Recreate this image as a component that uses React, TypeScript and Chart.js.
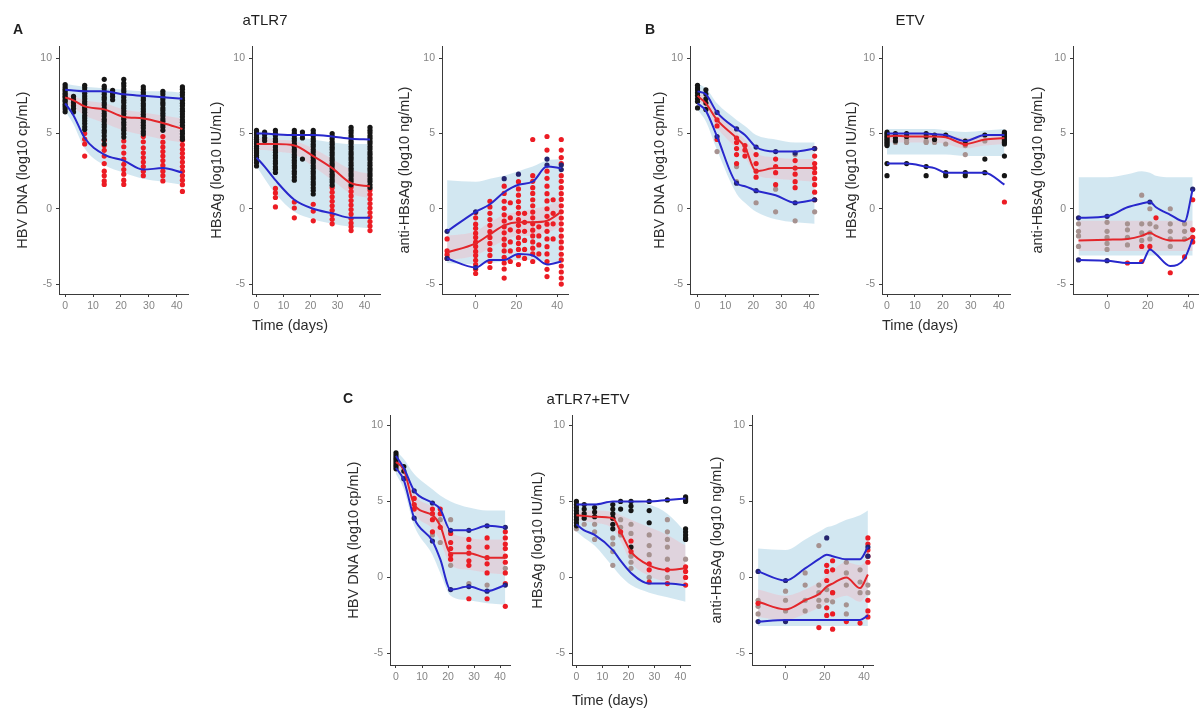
import { useEffect, useRef } from 'react';
import { Chart, registerables } from 'chart.js';

Chart.register(...registerables);

type Col = [number, number[]];

const FONT = '"Liberation Sans", Arial, Helvetica, sans-serif';
const AXIS = '#3a3a3a';
const TICK = '#858585';
const TITLE = '#2b2b2b';
const BLUE_LINE = '#2828cc';
const RED_LINE = '#e3262b';
const BLUE_BAND = 'rgba(188, 219, 234, 0.68)';
const PINK_BAND = 'rgba(250, 172, 184, 0.34)';
const BLACK_PT = '#151515';
const DARK_PT = '#24246e';
const RED_PT = '#ec1c24';
const GREY_PT = '#a69290';

// ---------- aTLR7 : HBV DNA ----------
const A1_DAYS = [0, 3, 7, 14, 21, 28, 35, 42];
const A1_P95 = [7.9, 7.85, 7.8, 7.8, 7.6, 7.5, 7.4, 7.3];
const A1_P50 = [7.4, 7.2, 6.8, 6.6, 6.1, 6.0, 5.7, 5.3];
const A1_P05 = [7.0, 6.2, 4.7, 3.6, 3.2, 2.6, 2.7, 2.4];
const A1_PI_HI = [8.3, 8.2, 8.1, 8.0, 7.9, 7.8, 7.8, 7.7];
const A1_PI_LO = [6.5, 5.6, 4.0, 2.9, 2.4, 2.0, 1.8, 1.6];
const A1_MED_HI = [7.8, 7.5, 7.2, 7.0, 6.6, 6.4, 6.2, 6.0];
const A1_MED_LO = [7.0, 6.7, 6.2, 5.7, 5.2, 4.9, 4.6, 4.4];
const A1_BLACK: Col[] = [
  [0, [8.25, 8.1, 7.97, 7.86, 7.71, 7.6, 7.47, 7.36, 7.21, 7.1, 6.94, 6.8, 6.63, 6.44]],
  [3, [7.46, 7.24, 7.06, 6.84, 6.66, 6.43]],
  [7, [8.2, 8.03, 7.84, 7.67, 7.49, 7.31, 7.12, 6.96, 6.75, 6.58, 6.41, 6.19, 6.03, 5.84, 5.66, 5.44, 5.26]],
  [14, [8.6, 8.14, 7.98, 7.77, 7.61, 7.41, 7.26, 7.04, 6.89, 6.69, 6.52, 6.32, 6.16, 5.94, 5.79, 5.59, 5.43, 5.21, 5.06, 4.84, 4.6, 4.3]],
  [17, [7.86, 7.64, 7.46, 7.24]],
  [21, [8.6, 8.34, 8.16, 7.95, 7.79, 7.59, 7.41, 7.21, 7.05, 6.84, 6.68, 6.49, 6.31, 6.11, 5.95, 5.74, 5.58, 5.37, 5.21, 4.99, 4.76]],
  [28, [8.1, 7.93, 7.73, 7.56, 7.36, 7.21, 6.99, 6.83, 6.63, 6.46, 6.27, 6.11, 5.89, 5.73, 5.54, 5.36, 5.14, 4.96]],
  [35, [7.8, 7.63, 7.42, 7.26, 7.06, 6.91, 6.69, 6.53, 6.34, 6.17, 5.97, 5.81, 5.59, 5.43, 5.21]],
  [42, [8.1, 7.94, 7.74, 7.57, 7.37, 7.21, 7.01, 6.85, 6.64, 6.48, 6.29, 6.11, 5.91, 5.75, 5.54, 5.38, 5.17, 4.99, 4.77, 4.61]],
];
const A1_RED: Col[] = [
  [3, [7.3, 6.95]],
  [7, [5.0, 4.62, 4.3, 3.5]],
  [14, [4.55, 4.2, 3.88, 3.5, 3.0, 2.5, 2.2, 1.85, 1.62]],
  [21, [4.5, 4.12, 3.7, 3.3, 2.95, 2.6, 2.3, 1.9, 1.62]],
  [28, [4.8, 4.45, 4.05, 3.72, 3.4, 3.1, 2.8, 2.5, 2.2]],
  [35, [4.8, 4.42, 4.1, 3.8, 3.5, 3.2, 2.88, 2.5, 2.2, 1.85]],
  [42, [4.55, 4.25, 3.95, 3.68, 3.4, 3.1, 2.8, 2.5, 2.2, 1.9, 1.6, 1.15]],
];

// ---------- aTLR7 : HBsAg ----------
const A2_DAYS = [0, 3, 7, 14, 21, 28, 35, 42];
const A2_P95 = [5.0, 5.0, 4.95, 4.9, 4.9, 4.8, 4.65, 4.6];
const A2_P50 = [4.3, 4.3, 4.3, 4.2, 3.5, 2.7, 1.7, 1.5];
const A2_P05 = [3.4, 2.8, 1.9, 0.6, 0.0, -0.3, -0.6, -0.6];
const A2_PI_HI = [5.2, 5.1, 5.0, 4.8, 4.6, 4.4, 4.3, 4.3];
const A2_PI_LO = [2.8, 2.0, 1.0, -0.2, -0.7, -1.0, -1.2, -1.3];
const A2_MED_HI = [4.7, 4.7, 4.6, 4.5, 4.0, 3.3, 2.6, 2.3];
const A2_MED_LO = [3.9, 3.9, 3.8, 3.6, 2.8, 1.9, 1.0, 0.7];
const A2_BLACK: Col[] = [
  [0, [5.2, 5.04, 4.91, 4.74, 4.61, 4.44, 4.31, 4.14, 4.01, 3.84, 3.71, 3.54, 3.41, 3.24, 3.06, 2.84]],
  [3, [5.1, 4.93, 4.71, 4.52]],
  [7, [5.2, 5.01, 4.86, 4.65, 4.49, 4.29, 4.11, 3.91, 3.75, 3.54, 3.37, 3.17, 3.01, 2.79, 2.63, 2.41]],
  [14, [5.2, 5.02, 4.86, 4.66, 4.51, 4.31, 4.15, 3.94, 3.79, 3.59, 3.43, 3.23, 3.06, 2.87, 2.71, 2.49, 2.33, 2.11, 1.9]],
  [17, [5.1, 4.9, 4.7, 3.3]],
  [21, [5.2, 5.01, 4.85, 4.65, 4.49, 4.29, 4.13, 3.93, 3.77, 3.57, 3.41, 3.21, 3.05, 2.85, 2.69, 2.49, 2.33, 2.13, 1.97, 1.77, 1.61, 1.39, 1.21, 0.98]],
  [28, [5.0, 4.81, 4.65, 4.45, 4.29, 4.09, 3.93, 3.73, 3.57, 3.37, 3.21, 3.01, 2.85, 2.65, 2.49, 2.29, 2.13, 1.93, 1.77, 1.57]],
  [35, [5.4, 5.21, 5.05, 4.85, 4.69, 4.49, 4.33, 4.13, 3.97, 3.77, 3.61, 3.41, 3.25, 3.05, 2.89, 2.69, 2.53, 2.33, 2.17, 1.97, 1.81, 1.59]],
  [42, [5.4, 5.21, 5.05, 4.85, 4.69, 4.49, 4.33, 4.13, 3.97, 3.77, 3.61, 3.41, 3.25, 3.05, 2.89, 2.69, 2.53, 2.33, 2.17, 1.97, 1.81, 1.59, 1.41]],
];
const A2_RED: Col[] = [
  [7, [1.35, 1.05, 0.75, 0.12]],
  [14, [0.45, 0.05, -0.6]],
  [21, [0.3, -0.15, -0.8]],
  [28, [1.4, 1.1, 0.8, 0.5, 0.2, -0.1, -0.4, -0.7, -1.0]],
  [35, [1.45, 1.15, 0.85, 0.55, 0.25, -0.05, -0.35, -0.65, -0.95, -1.2, -1.45]],
  [42, [1.25, 0.95, 0.65, 0.35, 0.05, -0.25, -0.55, -0.85, -1.15, -1.45]],
];

// ---------- aTLR7 : anti-HBsAg ----------
const A3_DAYS = [-14, 0, 7, 14, 21, 28, 35, 42];
const A3_P95 = [-1.5, -0.2, 0.3, 1.1, 1.6, 1.8, 2.8, 2.7];
const A3_P50 = [-2.9, -2.3, -1.7, -1.1, -0.9, -0.9, -0.8, -0.2];
const A3_P05 = [-3.3, -3.9, -3.4, -3.4, -3.0, -3.1, -3.7, -3.5];
const A3_PI_HI = [1.9, 1.8, 2.0, 2.2, 2.5, 2.8, 3.2, 3.3];
const A3_PI_LO = [-3.6, -3.7, -3.6, -3.5, -3.4, -3.4, -3.5, -3.6];
const A3_MED_HI = [-1.8, -1.5, -0.9, -0.4, -0.2, 0.0, 0.2, 0.6];
const A3_MED_LO = [-3.4, -3.1, -2.6, -2.1, -1.8, -1.8, -1.6, -1.2];
const A3_DARK: Col[] = [
  [-14, [-1.5, -3.3]],
  [0, [-0.2, -3.9]],
  [14, [2.0]],
  [21, [2.3]],
  [35, [2.9, 3.3]],
  [42, [2.9, 2.6]],
];
const A3_RED: Col[] = [
  [-14, [-2.0, -2.8, -3.05, -3.3]],
  [0, [-0.25, -0.6, -1.02, -1.3, -1.62, -1.9, -2.22, -2.5, -2.83, -3.1, -3.42, -3.7, -4.02, -4.3]],
  [7, [0.5, 0.12, -0.3, -0.72, -1.1, -1.52, -1.9, -2.3, -2.72, -3.1, -3.5, -3.9]],
  [14, [1.5, 1.02, 0.5, 0.03, -0.4, -0.82, -1.2, -1.6, -2.02, -2.4, -2.8, -3.22, -3.6, -4.0, -4.6]],
  [17, [0.4, -0.6, -1.4, -2.2, -2.8, -3.5]],
  [21, [1.8, 1.32, 0.9, 0.48, 0.1, -0.3, -0.72, -1.1, -1.5, -1.92, -2.3, -2.7, -3.12, -3.7]],
  [24, [-0.3, -0.9, -1.5, -2.1, -2.7, -3.3]],
  [28, [4.6, 2.2, 1.82, 1.4, 1.02, 0.6, 0.2, -0.22, -0.6, -1.0, -1.42, -1.8, -2.2, -2.62, -3.0, -3.5]],
  [31, [-1.2, -1.8, -2.4, -3.0]],
  [35, [4.8, 3.9, 2.5, 2.02, 1.5, 1.0, 0.52, 0.0, -0.5, -1.02, -1.5, -2.0, -2.52, -3.0, -3.5, -4.02, -4.5]],
  [38, [0.6, -0.3, -1.0, -2.0]],
  [42, [4.6, 3.9, 3.4, 3.0, 2.2, 1.82, 1.4, 1.0, 0.62, 0.2, -0.2, -0.62, -1.0, -1.4, -1.82, -2.2, -2.6, -3.02, -3.4, -3.8, -4.2, -4.6, -5.0]],
];

// ---------- ETV : HBV DNA ----------
const B1_DAYS = [0, 3, 7, 14, 17, 21, 28, 35, 42];
const B1_P95 = [7.8, 7.6, 6.4, 5.3, 4.9, 4.1, 3.8, 3.8, 4.0];
const B1_P50 = [7.5, 7.0, 5.9, 4.7, 4.1, 2.5, 2.7, 2.7, 2.7];
const B1_P05 = [7.0, 6.5, 4.8, 1.7, 1.5, 1.2, 0.9, 0.4, 0.6];
const B1_PI_HI = [8.3, 8.0, 7.0, 5.9, 5.5, 4.9, 4.6, 4.4, 4.4];
const B1_PI_LO = [6.6, 5.8, 3.9, 1.0, 0.4, -0.2, -0.7, -0.9, -1.0];
const B1_MED_HI = [7.8, 7.4, 6.4, 5.1, 4.6, 3.7, 3.4, 3.3, 3.3];
const B1_MED_LO = [7.2, 6.7, 5.4, 4.0, 3.4, 2.3, 2.0, 1.9, 1.8];
const B1_BLACK: Col[] = [
  [0, [8.2, 8.02, 7.88, 7.7, 7.52, 7.3, 7.12, 6.7]],
  [3, [7.9, 7.62, 7.3, 7.02, 6.6]],
];
const B1_DARK: Col[] = [
  [7, [6.4, 4.8]],
  [14, [5.3, 1.7]],
  [21, [4.1, 1.2]],
  [28, [3.8]],
  [35, [3.7, 0.4]],
  [42, [4.0, 0.6]],
];
const B1_RED: Col[] = [
  [7, [5.9, 5.5, 4.6]],
  [14, [4.7, 4.4, 4.0, 3.6, 3.0]],
  [17, [4.2, 3.9, 3.5]],
  [21, [3.6, 3.0, 2.5, 2.1]],
  [28, [3.3, 2.8, 2.4, 1.6]],
  [35, [3.2, 2.7, 2.3, 1.8, 1.4]],
  [42, [4.0, 3.5, 3.0, 2.7, 2.4, 2.0, 1.6, 1.1, 0.6]],
];
const B1_GREY: Col[] = [
  [7, [3.8]],
  [14, [2.8, 1.8]],
  [21, [0.4]],
  [28, [-0.2, 1.3]],
  [35, [3.6, -0.8]],
  [42, [-0.2]],
];

// ---------- ETV : HBsAg ----------
const B2_DAYS = [0, 3, 7, 14, 17, 21, 28, 35, 42];
const B2_P95 = [5.0, 5.0, 5.0, 5.0, 4.95, 4.9, 4.5, 4.9, 4.9];
const B2_P50 = [4.8, 4.85, 4.8, 4.8, 4.8, 4.75, 4.3, 4.6, 4.7];
const B2_P05 = [3.0, 3.0, 3.0, 2.8, 2.7, 2.4, 2.4, 2.4, 1.6];
const B2_PI_HI = [5.3, 5.3, 5.3, 5.3, 5.3, 5.2, 5.1, 5.2, 5.3];
const B2_PI_LO = [3.6, 3.6, 3.6, 3.6, 3.6, 3.6, 3.5, 3.5, 3.5];
const B2_MED_HI = [5.0, 5.0, 5.0, 5.0, 5.0, 4.95, 4.7, 4.9, 5.0];
const B2_MED_LO = [4.4, 4.4, 4.4, 4.4, 4.4, 4.3, 4.0, 4.2, 4.3];
const B2_BLACK: Col[] = [
  [0, [5.1, 5.0, 4.9, 4.8, 4.7, 4.6, 4.5, 4.4, 4.3, 4.2, 3.0, 2.2]],
  [3, [5.0, 4.7, 4.5]],
  [7, [5.0, 4.8, 3.0]],
  [14, [5.0, 4.8, 2.8, 2.2]],
  [17, [4.9, 4.6]],
  [21, [4.9, 2.4, 2.2]],
  [28, [4.5, 2.4, 2.2]],
  [35, [4.9, 3.3, 2.4]],
  [42, [5.1, 5.0, 4.9, 4.8, 4.7, 4.6, 4.5, 4.4, 4.3, 3.5, 2.2]],
];
const B2_GREY: Col[] = [
  [3, [4.4]],
  [7, [4.6, 4.4]],
  [14, [4.5, 4.4]],
  [17, [4.4]],
  [21, [4.3]],
  [28, [4.2, 3.6]],
  [35, [4.5]],
];
const B2_RED: Col[] = [
  [28, [4.3]],
  [42, [0.45]],
];

// ---------- ETV : anti-HBsAg ----------
const B3_DAYS = [-14, 0, 10, 17, 21, 24, 31, 38, 42];
const B3_P95 = [-0.6, -0.5, 0.1, 0.35, 0.45, 0.1, -0.4, -0.85, 1.3];
const B3_P50 = [-2.1, -2.05, -2.0, -1.8, -1.6, -1.8, -2.1, -2.1, -1.85];
const B3_P05 = [-3.4, -3.45, -3.6, -3.6, -2.7, -3.0, -3.8, -3.3, -2.0];
const B3_PI_HI = [2.1, 2.1, 2.3, 2.5, 2.4, 2.2, 2.1, 2.1, 2.1];
const B3_PI_LO = [-3.1, -3.1, -3.1, -3.1, -3.1, -3.1, -3.1, -3.1, -3.1];
const B3_MED_HI = [-0.8, -0.8, -0.8, -0.8, -0.8, -0.8, -0.8, -0.8, -0.8];
const B3_MED_LO = [-2.8, -2.8, -2.8, -2.8, -2.8, -2.8, -2.8, -2.8, -2.8];
const B3_DARK: Col[] = [
  [-14, [-0.6, -3.4]],
  [0, [-0.5, -3.45]],
  [21, [0.45]],
  [42, [1.3]],
];
const B3_GREY: Col[] = [
  [-14, [-1.0, -1.5, -1.8, -2.5]],
  [0, [-0.9, -1.5, -1.9, -2.3, -2.7]],
  [10, [-1.0, -1.4, -1.9, -2.4]],
  [17, [0.9, -1.0, -1.6, -2.1]],
  [21, [0.0, -1.0, -1.6, -2.0]],
  [24, [-1.2]],
  [31, [0.0, -1.0, -1.5, -2.0, -2.5]],
  [38, [-1.0, -1.5, -2.0]],
  [42, [-1.4]],
];
const B3_RED: Col[] = [
  [10, [-3.6]],
  [17, [-2.5, -3.5]],
  [21, [-2.5]],
  [24, [-0.6]],
  [31, [-4.25]],
  [38, [-3.2]],
  [42, [0.6, -1.4, -1.9, -2.2]],
];

// ---------- aTLR7+ETV : HBV DNA ----------
const C1_DAYS = [0, 3, 7, 14, 17, 21, 28, 35, 42];
const C1_P95 = [8.0, 7.2, 5.7, 4.9, 4.5, 3.1, 3.1, 3.4, 3.3];
const C1_P50 = [7.6, 7.1, 4.8, 4.1, 3.4, 1.6, 1.6, 1.3, 1.3];
const C1_P05 = [7.2, 6.4, 3.9, 2.4, 1.2, -0.8, -0.6, -0.9, -0.5];
const C1_PI_HI = [8.3, 7.8, 6.8, 5.8, 5.4, 5.0, 4.6, 4.4, 4.4];
const C1_PI_LO = [6.8, 5.8, 3.4, 1.5, 0.3, -1.2, -1.5, -1.7, -1.8];
const C1_MED_HI = [7.9, 7.4, 5.5, 4.6, 4.0, 3.0, 2.6, 2.5, 2.5];
const C1_MED_LO = [7.2, 6.6, 4.3, 3.2, 2.4, 0.8, 0.5, 0.3, 0.2];
const C1_BLACK: Col[] = [
  [0, [8.2, 8.05, 7.9, 7.76, 7.6, 7.44, 7.3, 7.15]],
  [3, [7.3, 7.0]],
];
const C1_DARK: Col[] = [
  [3, [6.5]],
  [7, [5.7, 3.9]],
  [14, [4.9, 2.4]],
  [21, [3.1, -0.8]],
  [28, [3.1, -0.6]],
  [35, [3.4, -0.9]],
  [42, [3.3, -0.5]],
];
const C1_RED: Col[] = [
  [7, [5.2, 4.8, 4.5]],
  [14, [4.5, 4.2, 3.8, 3.0]],
  [17, [4.5, 4.2, 3.3]],
  [21, [2.9, 2.3, 1.9, 1.5, 1.2]],
  [28, [2.5, 2.0, 1.6, 1.1, 0.8, -1.4]],
  [35, [2.6, 2.0, 1.3, 0.9, 0.3, -1.4]],
  [42, [3.0, 2.6, 2.2, 1.9, 1.4, 1.0, 0.3, -0.4, -1.9]],
];
const C1_GREY: Col[] = [
  [14, [2.8]],
  [17, [3.8, 2.3]],
  [21, [3.8, 0.8]],
  [28, [-0.4]],
  [35, [-0.5]],
  [42, [0.6]],
];

// ---------- aTLR7+ETV : HBsAg ----------
const C2_DAYS = [0, 3, 7, 14, 17, 21, 28, 35, 42];
const C2_P95 = [4.8, 4.8, 4.8, 5.0, 5.0, 5.0, 5.0, 5.1, 5.2];
const C2_P50 = [4.1, 4.05, 4.0, 3.9, 3.0, 1.7, 0.8, 0.5, 0.6];
const C2_P05 = [3.5, 3.1, 2.8, 1.8, 1.1, 0.3, -0.4, -0.4, -0.5];
const C2_PI_HI = [4.9, 4.9, 4.9, 5.0, 5.0, 5.0, 4.8, 4.2, 3.0];
const C2_PI_LO = [3.0, 2.6, 2.1, 0.7, 0.1, -0.5, -1.0, -1.3, -1.6];
const C2_MED_HI = [4.4, 4.4, 4.4, 4.3, 4.1, 3.8, 3.3, 2.8, 2.1];
const C2_MED_LO = [3.8, 3.7, 3.6, 3.2, 2.4, 1.0, 0.1, -0.3, -0.4];
const C2_BLACK: Col[] = [
  [0, [5.0, 4.8, 4.6, 4.4, 4.2, 4.0, 3.8, 3.6, 3.4]],
  [3, [4.8, 4.5, 4.2, 3.9]],
  [7, [4.6, 4.3, 4.0]],
  [14, [4.8, 4.5, 4.2, 3.9, 3.5, 3.2]],
  [17, [5.0, 4.5]],
  [21, [5.0, 4.7, 4.4, 2.0]],
  [28, [5.0, 4.4, 3.6]],
  [35, [5.1]],
  [42, [5.3, 5.2, 5.1, 5.0, 3.2, 3.0, 2.8, 2.6, 2.5]],
];
const C2_GREY: Col[] = [
  [0, [3.2]],
  [3, [3.5]],
  [7, [3.5, 3.0, 2.5]],
  [14, [2.6, 2.2, 1.7, 0.8]],
  [17, [3.8, 3.3, 2.8]],
  [21, [3.5, 2.9, 1.4, 1.0, 0.6]],
  [28, [2.8, 2.1, 1.5, 0.0]],
  [35, [3.8, 3.0, 2.5, 2.0, 1.2, 0.0]],
  [42, [1.2]],
];
const C2_RED: Col[] = [
  [14, [3.9]],
  [17, [3.0]],
  [21, [2.4, 1.7]],
  [28, [0.9, 0.5, -0.3]],
  [35, [0.5, -0.4]],
  [42, [0.7, 0.4, 0.0, -0.5]],
];

// ---------- aTLR7+ETV : anti-HBsAg ----------
const C3_DAYS = [-14, 0, 10, 17, 21, 24, 31, 38, 42];
const C3_P95 = [0.4, -0.2, 0.6, 1.2, 1.5, 1.4, 1.2, 1.2, 2.0];
const C3_P50 = [-1.6, -2.1, -1.5, -1.1, -0.6, -0.4, 0.0, -0.7, 0.2];
const C3_P05 = [-2.9, -2.8, -2.8, -2.8, -2.8, -2.8, -2.8, -2.8, -2.5];
const C3_PI_HI = [1.9, 1.8, 2.5, 3.0, 3.3, 3.4, 3.8, 4.1, 4.4];
const C3_PI_LO = [-3.2, -3.2, -3.2, -3.2, -3.2, -3.2, -3.2, -3.2, -3.2];
const C3_MED_HI = [-0.8, -1.2, -0.8, -0.3, 0.2, 0.5, 1.0, 0.8, 1.2];
const C3_MED_LO = [-2.6, -2.8, -2.4, -2.0, -1.7, -1.5, -1.2, -1.6, -1.0];
const C3_DARK: Col[] = [
  [-14, [0.4, -2.9]],
  [0, [-0.2, -2.9]],
  [21, [2.6]],
  [42, [2.0, 1.4]],
];
const C3_GREY: Col[] = [
  [-14, [-1.5, -1.9, -2.4]],
  [0, [-0.9, -1.5, -2.2]],
  [10, [0.3, -0.5, -1.5, -2.2]],
  [17, [2.1, -0.5, -1.0, -1.5, -1.9]],
  [21, [-0.8, -1.5]],
  [24, [-1.0, -1.6]],
  [31, [1.0, 0.3, -0.5, -1.8, -2.4]],
  [38, [0.5, -0.3, -1.0]],
  [42, [-0.5, -1.0]],
];
const C3_RED: Col[] = [
  [-14, [-1.7]],
  [17, [-3.3]],
  [21, [0.8, 0.4, -0.2, -2.0, -2.5]],
  [24, [1.1, 0.5, -1.0, -2.4, -3.4]],
  [31, [-2.9]],
  [38, [-3.0]],
  [42, [2.6, 2.2, 1.8, 1.4, 1.0, -1.5, -2.2, -2.6]],
];

const TICKS_Y = [-5, 0, 5, 10];
const TICKS_X_DAYS = [0, 10, 20, 30, 40];
const TICKS_X_ANTI = [0, 20, 40];

interface Series {
  days: number[];
  p95: number[];
  p50: number[];
  p05: number[];
  piHi: number[];
  piLo: number[];
  medHi: number[];
  medLo: number[];
  black?: Col[];
  dark?: Col[];
  red?: Col[];
  grey?: Col[];
}

interface Frame {
  titleX: number;
  area: [number, number, number, number]; // left, top, right, bottom of plot area
  x: [number, number];
  y: [number, number];
  xTicks: number[];
  yTitle: string;
  xTitleY?: number;
}

interface PanelSpec {
  id: string;
  frame: Frame;
  series: Series;
}

const ROW_A_Y: [number, number] = [-5.66, 10.79];
const ROW_C_Y: [number, number] = [-5.76, 10.67];

const PANELS: PanelSpec[] = [
  {
    id: 'A1',
    frame: { titleX: 23, area: [59, 44, 188, 294], x: [-2.2, 44], y: ROW_A_Y, xTicks: TICKS_X_DAYS, yTitle: 'HBV DNA (log10 cp/mL)' },
    series: { days: A1_DAYS, p95: A1_P95, p50: A1_P50, p05: A1_P05, piHi: A1_PI_HI, piLo: A1_PI_LO, medHi: A1_MED_HI, medLo: A1_MED_LO, black: A1_BLACK, red: A1_RED },
  },
  {
    id: 'A2',
    frame: { titleX: 217, area: [252, 44, 380, 294], x: [-1.67, 45.7], y: ROW_A_Y, xTicks: TICKS_X_DAYS, yTitle: 'HBsAg (log10 IU/mL)', xTitleY: 326 },
    series: { days: A2_DAYS, p95: A2_P95, p50: A2_P50, p05: A2_P05, piHi: A2_PI_HI, piLo: A2_PI_LO, medHi: A2_MED_HI, medLo: A2_MED_LO, black: A2_BLACK, red: A2_RED },
  },
  {
    id: 'A3',
    frame: { titleX: 405, area: [442, 44, 568, 294], x: [-16.5, 45.3], y: ROW_A_Y, xTicks: TICKS_X_ANTI, yTitle: 'anti-HBsAg (log10 ng/mL)' },
    series: { days: A3_DAYS, p95: A3_P95, p50: A3_P50, p05: A3_P05, piHi: A3_PI_HI, piLo: A3_PI_LO, medHi: A3_MED_HI, medLo: A3_MED_LO, dark: A3_DARK, red: A3_RED },
  },
  {
    id: 'B1',
    frame: { titleX: 660, area: [690, 44, 818, 294], x: [-2.7, 43.2], y: ROW_A_Y, xTicks: TICKS_X_DAYS, yTitle: 'HBV DNA (log10 cp/mL)' },
    series: { days: B1_DAYS, p95: B1_P95, p50: B1_P50, p05: B1_P05, piHi: B1_PI_HI, piLo: B1_PI_LO, medHi: B1_MED_HI, medLo: B1_MED_LO, black: B1_BLACK, dark: B1_DARK, red: B1_RED, grey: B1_GREY },
  },
  {
    id: 'B2',
    frame: { titleX: 852, area: [882, 44, 1010, 294], x: [-1.8, 44.0], y: ROW_A_Y, xTicks: TICKS_X_DAYS, yTitle: 'HBsAg (log10 IU/mL)', xTitleY: 326 },
    series: { days: B2_DAYS, p95: B2_P95, p50: B2_P50, p05: B2_P05, piHi: B2_PI_HI, piLo: B2_PI_LO, medHi: B2_MED_HI, medLo: B2_MED_LO, black: B2_BLACK, red: B2_RED, grey: B2_GREY },
  },
  {
    id: 'B3',
    frame: { titleX: 1038, area: [1073, 44, 1198, 294], x: [-16.7, 44.6], y: ROW_A_Y, xTicks: TICKS_X_ANTI, yTitle: 'anti-HBsAg (log10 ng/mL)' },
    series: { days: B3_DAYS, p95: B3_P95, p50: B3_P50, p05: B3_P05, piHi: B3_PI_HI, piLo: B3_PI_LO, medHi: B3_MED_HI, medLo: B3_MED_LO, dark: B3_DARK, red: B3_RED, grey: B3_GREY },
  },
  {
    id: 'C1',
    frame: { titleX: 354, area: [390, 413, 510, 665], x: [-2.3, 43.8], y: ROW_C_Y, xTicks: TICKS_X_DAYS, yTitle: 'HBV DNA (log10 cp/mL)' },
    series: { days: C1_DAYS, p95: C1_P95, p50: C1_P50, p05: C1_P05, piHi: C1_PI_HI, piLo: C1_PI_LO, medHi: C1_MED_HI, medLo: C1_MED_LO, black: C1_BLACK, dark: C1_DARK, red: C1_RED, grey: C1_GREY },
  },
  {
    id: 'C2',
    frame: { titleX: 538, area: [572, 413, 690, 665], x: [-1.7, 43.7], y: ROW_C_Y, xTicks: TICKS_X_DAYS, yTitle: 'HBsAg (log10 IU/mL)', xTitleY: 701 },
    series: { days: C2_DAYS, p95: C2_P95, p50: C2_P50, p05: C2_P05, piHi: C2_PI_HI, piLo: C2_PI_LO, medHi: C2_MED_HI, medLo: C2_MED_LO, black: C2_BLACK, red: C2_RED, grey: C2_GREY },
  },
  {
    id: 'C3',
    frame: { titleX: 717, area: [752, 413, 873, 665], x: [-17.1, 44.6], y: ROW_C_Y, xTicks: TICKS_X_ANTI, yTitle: 'anti-HBsAg (log10 ng/mL)' },
    series: { days: C3_DAYS, p95: C3_P95, p50: C3_P50, p05: C3_P05, piHi: C3_PI_HI, piLo: C3_PI_LO, medHi: C3_MED_HI, medLo: C3_MED_LO, dark: C3_DARK, red: C3_RED, grey: C3_GREY },
  },
];

const TITLE_SIZE = 14.5;
const TITLE_HALF = (TITLE_SIZE * 1.2) / 2;

function canvasBox(f: Frame) {
  const [l, t, r, b] = f.area;
  const cl = Math.round(f.titleX - TITLE_HALF);
  const ct = t - 8;
  const cr = r + 4;
  const cb = f.xTitleY ? Math.round(f.xTitleY + TITLE_HALF) : b + 26;
  return { cl, ct, w: cr - cl, h: cb - ct, l, t, r, b, cb, cr };
}

const toPoints = (days: number[], ys: number[]) => days.map((d, i) => ({ x: d, y: ys[i] }));
const scatterPoints = (cols: Col[] = []) => cols.flatMap(([d, ys]) => ys.map((y) => ({ x: d, y })));

function Panel({ spec }: { spec: PanelSpec }) {
  const ref = useRef<HTMLCanvasElement>(null);
  const box = canvasBox(spec.frame);

  useEffect(() => {
    const canvas = ref.current;
    if (!canvas) return;
    const { frame: f, series: s } = spec;
    const { l, t, b, cb, cr, r, cl, ct } = box;

    const band = (ys: number[], order: number, fill: any, bg?: string) => ({
      type: 'line' as const,
      data: toPoints(s.days, ys),
      borderWidth: 0,
      borderColor: 'rgba(0,0,0,0)',
      pointRadius: 0,
      cubicInterpolationMode: 'monotone' as const,
      fill,
      backgroundColor: bg,
      order,
    });
    const dots = (cols: Col[] | undefined, color: string, order: number) => ({
      type: 'scatter' as const,
      data: scatterPoints(cols),
      pointRadius: 2.6,
      pointBorderWidth: 0,
      pointBackgroundColor: color,
      borderColor: color,
      showLine: false,
      order,
    });
    const line = (ys: number[], color: string, order: number) => ({
      type: 'line' as const,
      data: toPoints(s.days, ys),
      borderColor: color,
      borderWidth: 2,
      pointRadius: 0,
      fill: false,
      cubicInterpolationMode: 'monotone' as const,
      order,
    });

    const datasets: any[] = [
      band(s.piLo, 10, false),
      band(s.piHi, 10, '-1', BLUE_BAND),
      band(s.medLo, 9, false),
      band(s.medHi, 9, '-1', PINK_BAND),
      dots(s.grey, GREY_PT, 6),
      dots(s.red, RED_PT, 5),
      dots(s.black, BLACK_PT, 4),
      dots(s.dark, DARK_PT, 3),
      line(s.p05, BLUE_LINE, 1),
      line(s.p95, BLUE_LINE, 1),
      line(s.p50, RED_LINE, 1),
    ];

    const tickFont = { family: FONT, size: 10.5 };
    const titleFont = { family: FONT, size: TITLE_SIZE };

    const chart = new Chart(canvas, {
      type: 'scatter',
      data: { datasets },
      options: {
        responsive: false,
        animation: false,
        devicePixelRatio: 1,
        events: [],
        layout: { padding: { left: 0, top: t - ct, right: cr - r, bottom: 0 } },
        plugins: { legend: { display: false }, tooltip: { enabled: false } },
        scales: {
          x: {
            type: 'linear',
            min: f.x[0],
            max: f.x[1],
            afterBuildTicks: (sc: any) => {
              sc.ticks = f.xTicks.map((v) => ({ value: v }));
            },
            afterFit: (sc: any) => {
              sc.height = cb - b;
            },
            grid: { display: true, drawOnChartArea: false, drawTicks: true, tickLength: 3, color: AXIS, lineWidth: 1 },
            border: { display: true, color: AXIS, width: 1 },
            ticks: { color: TICK, font: tickFont, padding: 3, maxRotation: 0, autoSkip: false, callback: (v: any) => String(v) },
            title: f.xTitleY
              ? { display: true, text: 'Time (days)', align: 'start', color: TITLE, font: titleFont, padding: 0 }
              : { display: false },
          },
          y: {
            type: 'linear',
            min: f.y[0],
            max: f.y[1],
            afterBuildTicks: (sc: any) => {
              sc.ticks = TICKS_Y.map((v) => ({ value: v }));
            },
            afterFit: (sc: any) => {
              sc.width = l - cl;
            },
            grid: { display: true, drawOnChartArea: false, drawTicks: true, tickLength: 3, color: AXIS, lineWidth: 1 },
            border: { display: true, color: AXIS, width: 1 },
            ticks: { color: TICK, font: tickFont, padding: 4, autoSkip: false, callback: (v: any) => String(v) },
            title: { display: true, text: f.yTitle, color: TITLE, font: titleFont, padding: 0 },
          },
        },
      } as any,
    });
    return () => chart.destroy();
  }, [spec]);

  return (
    <canvas
      ref={ref}
      width={box.w}
      height={box.h}
      style={{ position: 'absolute', left: box.cl, top: box.ct, width: box.w, height: box.h }}
    />
  );
}

function Txt({ x, y, size, bold, children }: { x: number; y: number; size: number; bold?: boolean; children: string }) {
  return (
    <span
      style={{
        position: 'absolute',
        left: x,
        top: y,
        transform: 'translate(-50%, -50%)',
        fontFamily: FONT,
        fontSize: size,
        fontWeight: bold ? 700 : 400,
        color: '#1e1e1e',
        lineHeight: 1,
        whiteSpace: 'nowrap',
      }}
    >
      {children}
    </span>
  );
}

export default function App() {
  return (
    <div style={{ position: 'absolute', left: 0, top: 0, width: 1202, height: 713, background: '#ffffff', overflow: 'hidden' }}>
      {PANELS.map((p) => (
        <Panel key={p.id} spec={p} />
      ))}
      <Txt x={18} y={29} size={14} bold>A</Txt>
      <Txt x={650} y={29} size={14} bold>B</Txt>
      <Txt x={348} y={398} size={14} bold>C</Txt>
      <Txt x={265} y={19} size={15}>aTLR7</Txt>
      <Txt x={910} y={19} size={15}>ETV</Txt>
      <Txt x={588} y={398} size={15}>aTLR7+ETV</Txt>
    </div>
  );
}
